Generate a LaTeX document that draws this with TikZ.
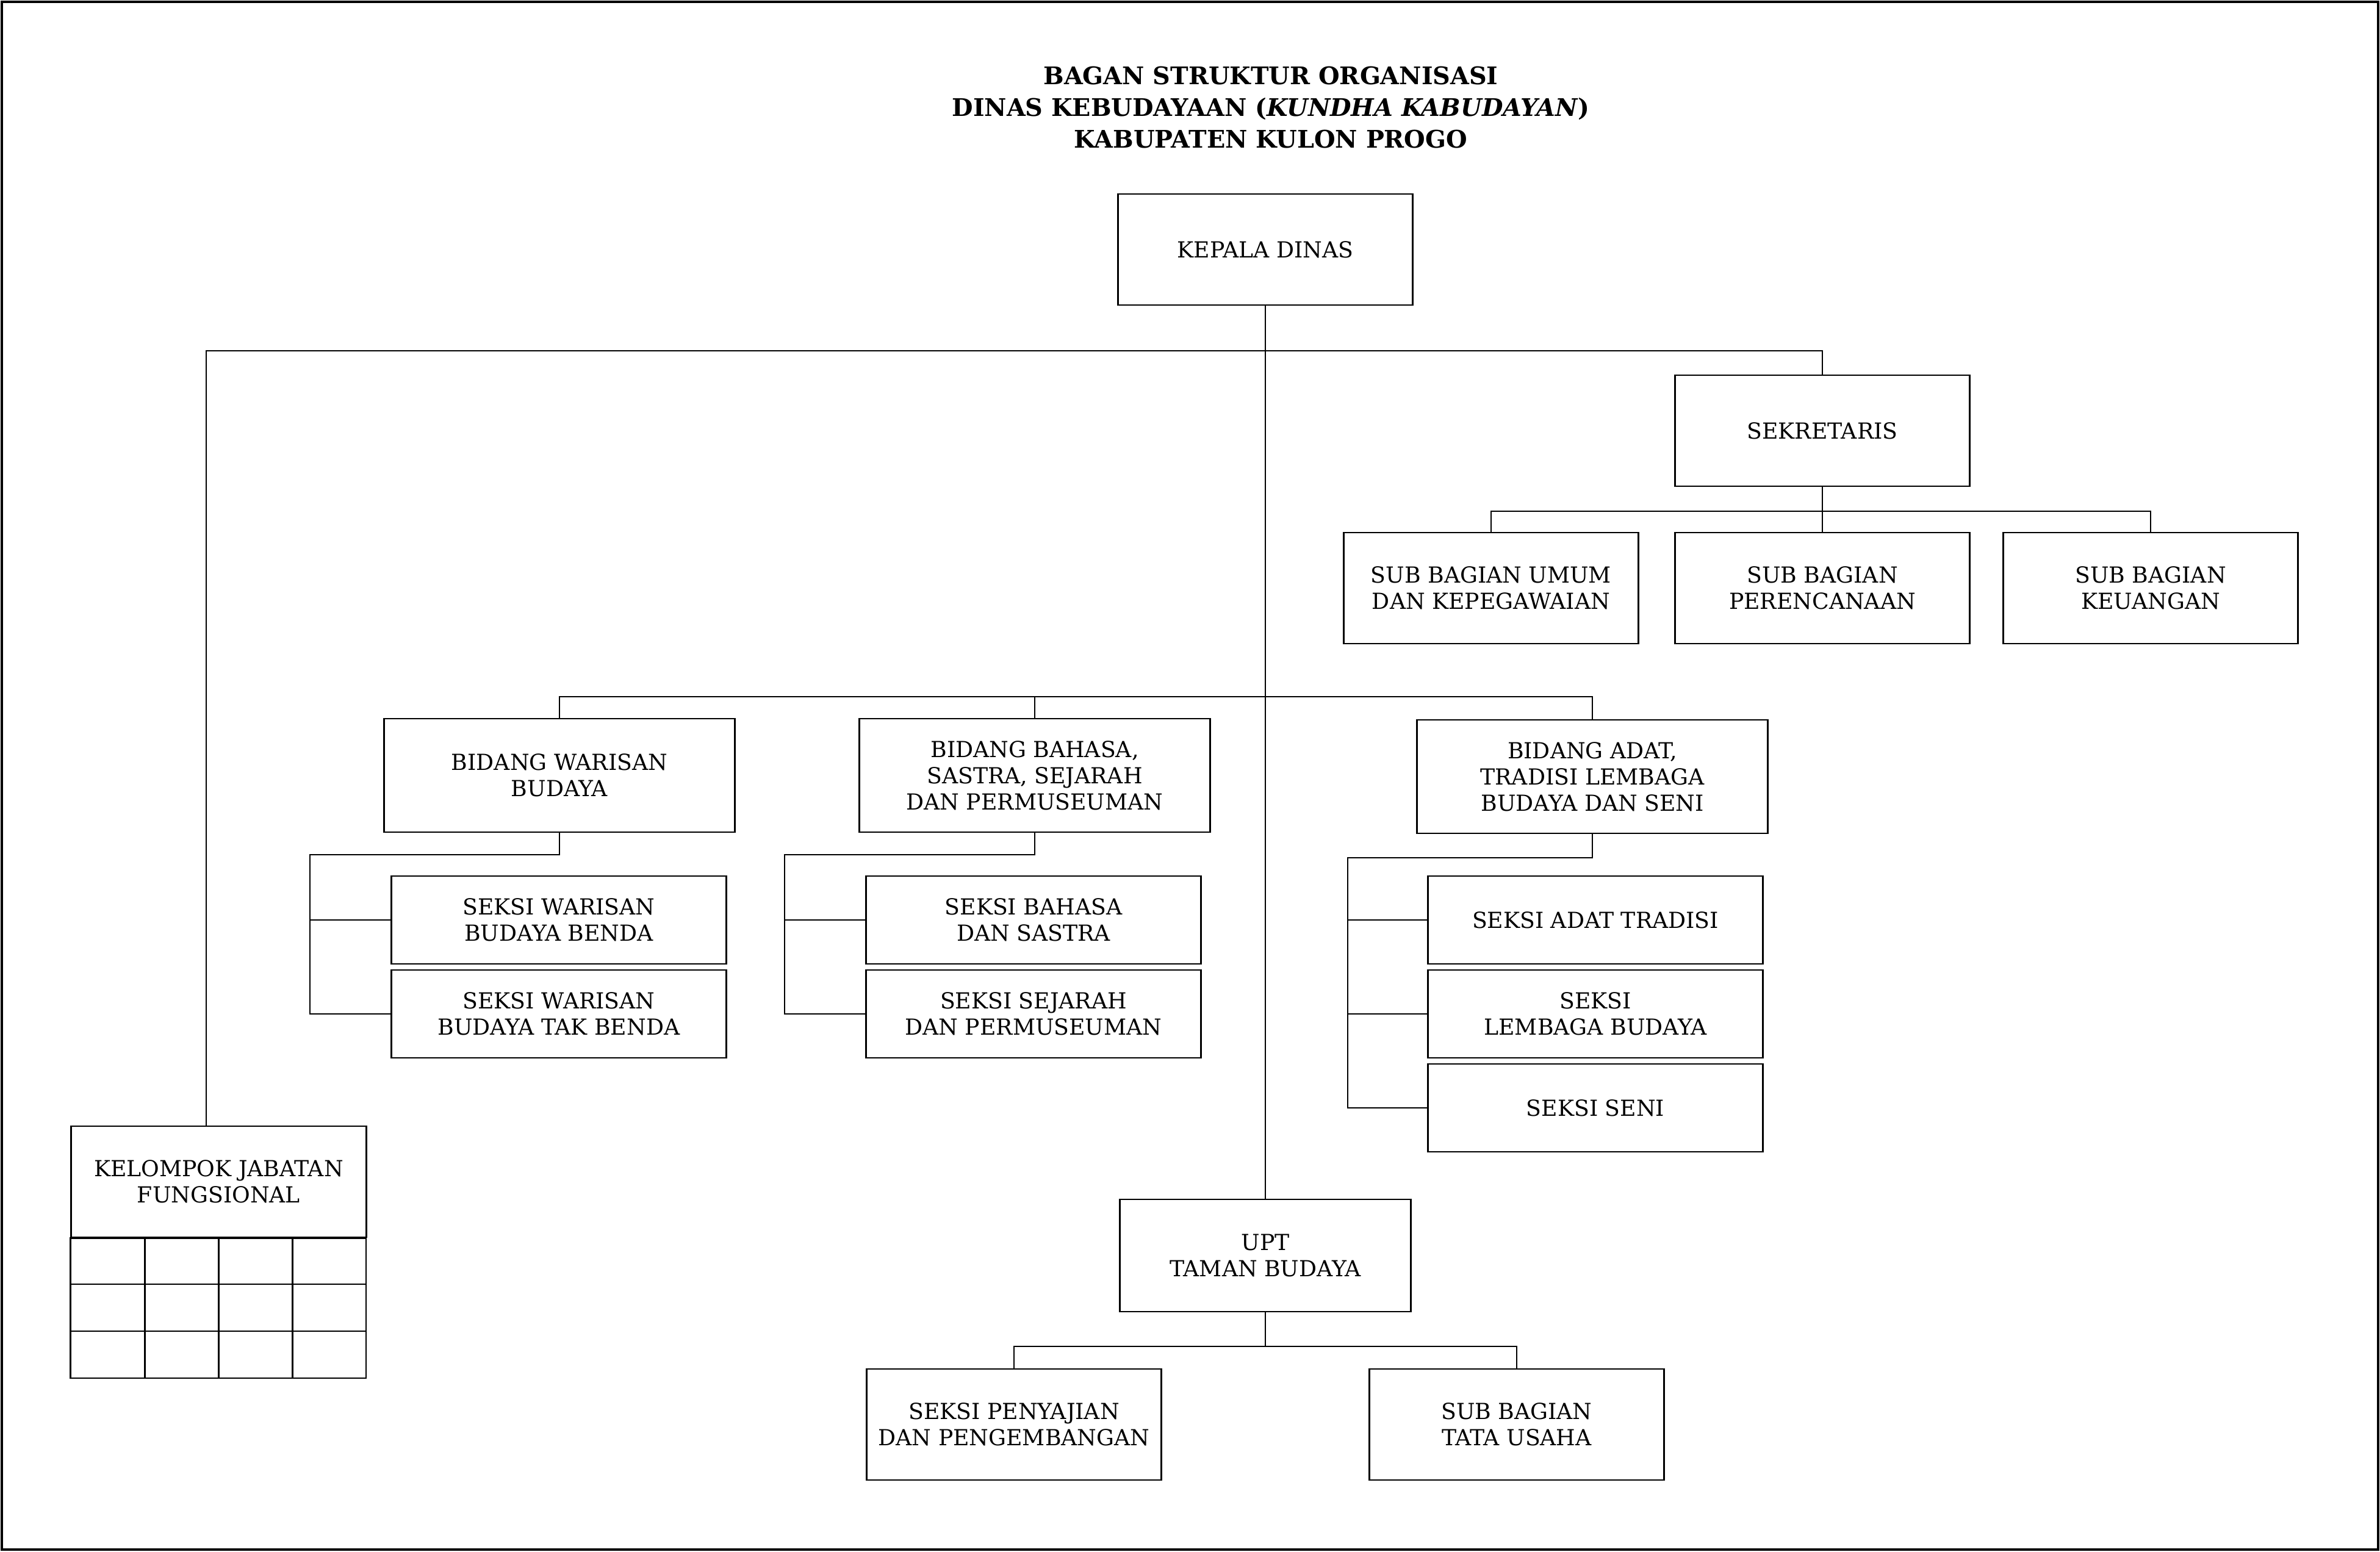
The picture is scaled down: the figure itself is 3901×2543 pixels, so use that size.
\documentclass[tikz,border=0pt]{standalone}
\usepackage{fontspec}
\setmainfont{DejaVu Serif}
\begin{document}
\begin{tikzpicture}[x=0.01cm, y=-0.01cm,
  box/.style={draw, line width=0.8pt, align=center, inner sep=0pt,
    font=\fontsize{10.3}{12.2}\selectfont},
  kbox/.style={box, minimum width=4.83cm, minimum height=1.82cm},
  bbox/.style={box, minimum width=5.75cm, minimum height=1.86cm},
  sbox/.style={box, minimum width=5.48cm, minimum height=1.44cm},
  ln/.style={line width=0.75pt},
  titlefont/.style={font=\fontsize{11.3}{14.8}\selectfont\bfseries}]
\useasboundingbox (0,0) rectangle (3901,2543);
\draw[line width=0.9pt] (3,3) rectangle (3898,2540);

% title
\node[align=center, titlefont] (title) at (2083,176)
  {BAGAN STRUKTUR ORGANISASI\\DINAS KEBUDAYAAN (\textit{KUNDHA KABUDAYAN})\\KABUPATEN KULON PROGO};

% top level
\node[kbox] (kepala) at (2074,409) {KEPALA DINAS};
\node[kbox] (sek) at (2987,706) {SEKRETARIS};
\node[kbox] (sub1) at (2444,964) {SUB BAGIAN UMUM\\DAN KEPEGAWAIAN};
\node[kbox] (sub2) at (2987,964) {SUB BAGIAN\\PERENCANAAN};
\node[kbox] (sub3) at (3525,964) {SUB BAGIAN\\KEUANGAN};

% bidang
\node[bbox] (bw) at (917,1271) {BIDANG WARISAN\\BUDAYA};
\node[bbox] (bb) at (1696,1271) {BIDANG BAHASA,\\SASTRA, SEJARAH\\DAN PERMUSEUMAN};
\node[bbox] (ba) at (2610,1273) {BIDANG ADAT,\\TRADISI LEMBAGA\\BUDAYA DAN SENI};

% seksi
\node[sbox] (sw1) at (916,1508) {SEKSI WARISAN\\BUDAYA BENDA};
\node[sbox] (sw2) at (916,1662) {SEKSI WARISAN\\BUDAYA TAK BENDA};
\node[sbox] (sb1) at (1694,1508) {SEKSI BAHASA\\DAN SASTRA};
\node[sbox] (sb2) at (1694,1662) {SEKSI SEJARAH\\DAN PERMUSEUMAN};
\node[sbox] (sa1) at (2615,1508) {SEKSI ADAT TRADISI};
\node[sbox] (sa2) at (2615,1662) {SEKSI\\LEMBAGA BUDAYA};
\node[sbox] (sa3) at (2615,1816) {SEKSI SENI};

% kelompok jabatan fungsional
\node[kbox] (kjf) at (358.5,1937) {KELOMPOK JABATAN\\FUNGSIONAL};
\draw[line width=0.8pt] (kjf.south west) rectangle (600,2259);
\foreach \cx in {237.75,358.5,479.25} \draw[line width=0.8pt] (\cx,2028) -- (\cx,2259);
\foreach \cy in {2105,2182} \draw[line width=0.8pt] (117,\cy) -- (600,\cy);

% UPT
\node[box, minimum width=4.77cm, minimum height=1.84cm] (upt) at (2074,2058) {UPT\\TAMAN BUDAYA};
\node[kbox] (pen) at (1662,2335) {SEKSI PENYAJIAN\\DAN PENGEMBANGAN};
\node[kbox] (tu) at (2486,2335) {SUB BAGIAN\\TATA USAHA};

% junction coordinates
\coordinate (top) at (2074,575);
\coordinate (kl) at (338,575);
\coordinate (sj) at (2987,838);
\coordinate (bj) at (2074,1142);
\coordinate (wc) at (508,1401);
\coordinate (bc) at (1286,1401);
\coordinate (ac) at (2209,1406);
\coordinate (uj) at (2074,2207);

% connectors
\draw[ln] (kepala.south) -- (upt.north);
\draw[ln] (kl |- kjf.north) -- (kl) -- (top) -| (sek.north);
\draw[ln] (sek.south) -- (sub2.north);
\draw[ln] (sub1.north) |- (sj) -| (sub3.north);
\draw[ln] (bw.north) |- (bj) -| (ba.north);
\draw[ln] (bb.north) -- (bb.north |- bj);
\draw[ln] (bw.south) |- (wc) |- (sw2.west);
\draw[ln] (wc |- sw1.west) -- (sw1.west);
\draw[ln] (bb.south) |- (bc) |- (sb2.west);
\draw[ln] (bc |- sb1.west) -- (sb1.west);
\draw[ln] (ba.south) |- (ac) |- (sa3.west);
\draw[ln] (ac |- sa1.west) -- (sa1.west);
\draw[ln] (ac |- sa2.west) -- (sa2.west);
\draw[ln] (upt.south) -- (uj);
\draw[ln] (pen.north) |- (uj) -| (tu.north);
\end{tikzpicture}
\end{document}
